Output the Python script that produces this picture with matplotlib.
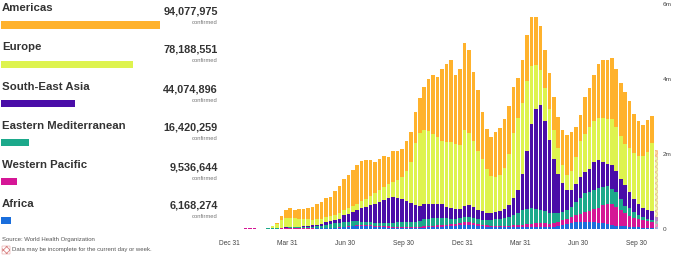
import matplotlib
matplotlib.use('Agg')
import matplotlib.pyplot as plt
import matplotlib.dates as mdates
import pandas as pd
import numpy as np
from matplotlib.patches import Rectangle

plt.rcParams['font.family'] = ['Liberation Sans', 'DejaVu Sans']
plt.rcParams['hatch.linewidth'] = 0.6

# ---------------- data ----------------
regions = ['Americas', 'Europe', 'South-East Asia', 'Eastern Mediterranean',
           'Western Pacific', 'Africa']
confirmed = [94077975, 78188551, 44074896, 16420259, 9536644, 6168274]
region_colors = ['#FFB22C', '#DEF34E', '#4A0DA8', '#1CA98B', '#D51696', '#1A6EDC']

first_week = '2019-12-29'   # weekly bars (millions of new cases per week)

africa = [0, 0, 0, 0, 0, 0, 0, 0, 0, 0,
          .001, .001, .003, .004, .005, .006, .007, .008, .01, .012,
          .015, .018, .022, .027, .032, .04, .05, .06, .07, .08,
          .085, .075, .07, .06, .05, .045, .04, .035, .03, .03,
          .03, .03, .03, .035, .04, .045, .05, .055, .06, .07,
          .08, .09, .11, .12, .11, .10, .08, .07, .06, .05,
          .05, .05, .05, .05, .05, .05, .05, .05, .05, .05,
          .05, .05, .05, .06, .08, .10, .13, .16, .18, .19,
          .19, .19, .18, .17, .15, .13, .11, .09, .08, .07,
          .06, .05, .05, .04, .04, .04, .05]

western_pacific = [0, 0, .001, .005, .02, .025, .03, .012, .004, .005,
                   .005, .01, .012, .012, .012, .01, .008, .006, .005, .004,
                   .004, .004, .005, .005, .006, .008, .01, .012, .015, .02,
                   .025, .03, .03, .03, .035, .035, .03, .025, .025, .02,
                   .02, .02, .02, .025, .03, .035, .04, .045, .05, .05,
                   .055, .055, .055, .07, .07, .06, .05, .045, .04, .04,
                   .035, .035, .04, .04, .05, .06, .07, .08, .09, .10,
                   .10, .10, .09, .09, .11, .14, .15, .16, .19, .21,
                   .26, .29, .35, .40, .48, .55, .56, .49, .42, .35,
                   .30, .25, .22, .20, .17, .15, .08]

eastern_med = [0, 0, 0, 0, 0, 0, 0, 0, .003, .01,
               .012, .01, .015, .02, .025, .03, .035, .04, .045, .05,
               .06, .07, .09, .10, .11, .12, .13, .128, .125, .11,
               .09, .085, .08, .08, .085, .09, .10, .11, .125, .13,
               .13, .14, .15, .15, .19, .20, .20, .20, .19, .17,
               .145, .135, .135, .13, .14, .14, .14, .135, .14, .16,
               .175, .195, .21, .24, .28, .33, .38, .40, .41, .39,
               .37, .33, .30, .27, .23, .21, .22, .26, .35, .43,
               .50, .52, .52, .52, .49, .46, .41, .41, .30, .20,
               .19, .15, .11, .08, .07, .06, .09]

south_east_asia = [0, 0, 0, 0, 0, 0, 0, 0, 0, 0,
                   .001, .001, .003, .005, .01, .012, .015, .02, .025, .03,
                   .04, .05, .065, .08, .095, .11, .18, .20, .24, .29,
                   .35, .41, .47, .51, .55, .61, .66, .69, .65, .61,
                   .57, .51, .45, .40, .42, .40, .38, .38, .36, .31,
                   .27, .25, .23, .29, .31, .28, .25, .22, .20, .19,
                   .19, .20, .24, .32, .46, .60, .97, 1.54, 2.25, 2.65,
                   2.78, 2.41, 1.94, 1.45, 1.04, .77, .55, .45, .49, .56,
                   .58, .60, .75, .76, .68, .60, .64, .57, .54, .55,
                   .44, .36, .30, .25, .22, .24, .11]

europe = [0, 0, 0, 0, 0, 0, 0, 0, .005, .02,
          .05, .10, .21, .24, .25, .23, .21, .19, .17, .15,
          .15, .13, .13, .13, .13, .14, .13, .15, .17, .18,
          .20, .21, .22, .27, .31, .34, .36, .39, .47, .60,
          .80, 1.10, 1.65, 1.94, 1.96, 1.94, 1.86, 1.77, 1.70, 1.73,
          1.78, 1.75, 1.72, 2.04, 1.92, 1.78, 1.57, 1.41, 1.16, .98,
          .95, .96, 1.08, 1.35, 1.71, 1.91, 1.88, 1.88, 1.54, 1.19,
          .95, .86, .82, .78, .70, .48, .38, .53, .71, .97,
          1.00, 1.13, 1.08, 1.11, 1.17, 1.20, 1.22, 1.17, 1.15, 1.10,
          1.17, 1.21, 1.27, 1.39, 1.55, 1.80, 1.59]

americas = [0, 0, 0, 0, 0, 0, 0, 0, 0, .002,
            .01, .03, .11, .22, .25, .23, .265, .276, .315, .344,
            .40, .44, .52, .52, .64, .74, .83, .90, .96, 1.04,
            1.07, 1.02, .98, .83, .84, .83, .74, .83, .77, .75,
            .81, .80, .81, .95, 1.16, 1.39, 1.58, 1.61, 1.90, 2.08,
            2.19, 1.83, 2.01, 2.31, 2.22, 1.83, 1.61, 1.25, 1.07, 1.03,
            1.20, 1.26, 1.31, 1.28, 1.24, 1.08, 1.17, 1.23, 1.31, 1.27,
            1.17, 1.02, .97, .87, .83, .94, 1.09, 1.02, .79, .69,
            .99, 1.02, 1.24, 1.43, 1.53, 1.58, 1.62, 1.55, 1.41, 1.39,
            1.26, 1.04, .94, .82, .86, .73, .19]

tick_dates = ['2019-12-31', '2020-03-31', '2020-06-30', '2020-09-30',
              '2020-12-31', '2021-03-31', '2021-06-30', '2021-09-30']
tick_labels = ['Dec 31', 'Mar 31', 'Jun 30', 'Sep 30',
               'Dec 31', 'Mar 31', 'Jun 30', 'Sep 30']
y_ticks = [0, 2, 4, 6]
y_tick_labels = ['0', '2m', '4m', '6m']

# ---------------- figure ----------------
W, H = 674, 257
fig = plt.figure(figsize=(W / 100, H / 100), dpi=100)

ax_l, ax_r, ax_t, ax_b = 215, 660, 4, 229
ax = fig.add_axes([ax_l / W, 1 - ax_b / H, (ax_r - ax_l) / W, (ax_b - ax_t) / H])

weeks = mdates.date2num(pd.date_range(first_week, periods=len(africa), freq='7D'))
stack = [africa, western_pacific, eastern_med, south_east_asia, europe, americas]
stack_colors = region_colors[::-1]

bottom = np.zeros(len(africa))
for vals, col in zip(stack, stack_colors):
    v = np.array(vals)
    ax.bar(weeks[:-1], v[:-1], width=5.6, bottom=bottom[:-1], color=col,
           linewidth=0)
    ax.bar(weeks[-1:], v[-1:], width=5.6, bottom=bottom[-1:], color=col,
           alpha=0.45, hatch='xxxxxx', edgecolor='#e07b7b', linewidth=0)
    bottom = bottom + v

d0 = mdates.date2num(pd.Timestamp('2019-12-31'))
px_per_day = (636.7 - 229) / 639.0
ax.set_xlim(d0 + (ax_l - 229) / px_per_day, d0 + (ax_r - 229) / px_per_day)
ax.set_ylim(0, 6)

ax.set_xticks(mdates.date2num(pd.to_datetime(tick_dates)))
ax.set_xticklabels(tick_labels)
ax.yaxis.tick_right()
ax.set_yticks(y_ticks)
ax.set_yticklabels(y_tick_labels)
ax.tick_params(axis='x', length=0, pad=8, labelsize=4.8, labelcolor='#444444')
ax.tick_params(axis='y', length=0, pad=2.2, labelsize=4.6, labelcolor='#444444')
for s in ax.spines.values():
    s.set_visible(False)

# ---------------- left legend panel ----------------
name_y = [8, 47, 87, 126, 165, 204]
bar_y = [25, 64.5, 103.5, 142.5, 181.5, 220.5]
num_y = [11, 50, 89, 128, 167, 206]
conf_y = [22, 61, 100, 139, 178, 217]

lax = fig.add_axes([1 / W, 0, 159 / W, 1])
lax.set_xlim(0, confirmed[0])
lax.set_ylim(H, 0)
lax.barh(bar_y, confirmed, height=7.5, color=region_colors, linewidth=0)
lax.axis('off')

for name, ny, val, vy, cy in zip(regions, name_y, confirmed, num_y, conf_y):
    fig.text(2 / W, 1 - ny / H, name, ha='left', va='center', fontsize=8.2,
             fontweight='bold', color='#333333')
    fig.text(218 / W, 1 - vy / H, f'{val:,}', ha='right', va='center',
             fontsize=7.8, fontweight='bold', color='#333333')
    fig.text(218 / W, 1 - cy / H, 'confirmed', ha='right', va='center',
             fontsize=4.2, color='#777777')

fig.text(2 / W, 1 - 239 / H, 'Source: World Health Organization', ha='left',
         va='center', fontsize=4.3, color='#555555')
fig.patches.append(Rectangle((2 / W, 1 - 254 / H), 8 / W, 8 / H,
                             transform=fig.transFigure, facecolor='white',
                             edgecolor='#d98080', hatch='xxxxx', linewidth=0.3))
fig.text(12 / W, 1 - 250 / H, 'Data may be incomplete for the current day or week.',
         ha='left', va='center', fontsize=4.3, color='#555555')

fig.savefig('out.png', dpi=100)
